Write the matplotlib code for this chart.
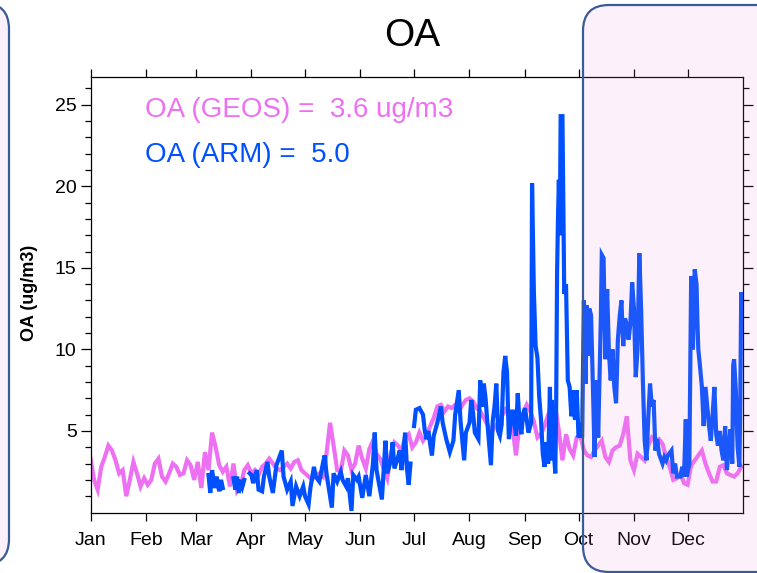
import numpy as np
import matplotlib
matplotlib.use("Agg")
import matplotlib.pyplot as plt
from matplotlib.patches import FancyBboxPatch
from matplotlib.transforms import IdentityTransform

plt.rcParams['font.family'] = ['Liberation Sans', 'DejaVu Sans']

# ---------------- data ----------------
month_labels = ['Jan', 'Feb', 'Mar', 'Apr', 'May', 'Jun', 'Jul', 'Aug', 'Sep', 'Oct', 'Nov', 'Dec']
month_start_day = [0, 31, 59, 90, 120, 151, 181, 212, 243, 273, 304, 334]

# GEOS OA, every 2 days starting Jan 1 (ug/m3)
geos_oa = [
    3.3, 2.0, 1.4, 2.8, 3.4, 4.1, 3.8, 3.2, 2.4, 2.6, 1.0, 2.0, 3.1, 2.4, 1.6, 2.1,
    1.7, 2.0, 3.0, 3.3, 2.2, 1.9, 2.4, 3.0, 2.8, 2.3, 2.4, 3.2, 2.9, 2.0, 3.1, 1.5,
    3.7, 2.6, 4.9, 4.0, 2.9, 2.5, 2.8, 1.6, 3.0, 1.3, 1.6, 2.6, 2.9, 2.4, 2.6, 2.3,
    2.8, 3.0, 3.3, 3.0, 2.7, 2.6, 2.8, 3.0, 2.7, 3.1, 3.2, 2.6, 2.4, 2.2, 2.0, 2.3,
    2.4, 2.2, 3.6, 5.5, 4.1, 2.6, 2.5, 3.8, 3.5, 2.6, 3.0, 4.1, 3.3, 2.7, 3.9, 4.4,
    3.6, 3.3, 2.7, 2.1, 3.6, 4.3, 4.1, 3.8, 4.6, 4.8, 4.0, 4.3, 4.9, 4.4, 4.7, 5.3,
    5.8, 6.5, 6.6, 6.2, 6.5, 6.4, 6.6, 6.2, 6.6, 6.9, 7.0, 6.8, 6.4, 6.2, 5.8, 5.4,
    4.9, 5.2, 5.5, 5.9, 6.3, 6.0, 5.3, 3.5, 5.4, 6.1, 6.6, 6.2, 5.6, 4.6, 4.8, 5.3,
    6.0, 6.3, 6.5, 5.0, 3.2, 4.8, 3.9, 3.5, 4.6, 4.7, 3.8, 3.5, 3.4, 3.8, 4.1, 4.4,
    3.4, 3.1, 3.8, 4.0, 4.1, 4.8, 5.9, 3.2, 2.6, 3.6, 3.4, 3.2, 4.1, 4.6, 4.4, 4.5,
    4.2, 3.4, 2.8, 2.0, 2.1, 2.4, 1.8, 1.7, 2.9, 3.2, 3.5, 3.8, 3.0, 2.4, 1.9, 1.9,
    2.8, 2.9, 2.4, 2.3, 2.2, 2.4, 2.8,
]
geos_day = np.arange(len(geos_oa)) * 2

# ARM OA observations: day of year and value (nan = data gap)
arm_day = [
    66, 67, 68, 69.5, 70.5, 72, 73, 74, 77,
    80, 81, 82, 83, 84, 85, 86, 87.5,
    89, 90, 91, 93, 94, 96, 97, 99, 100, 102, 104, 106, 107, 108, 110, 112, 113, 115,
    117, 119, 120, 122, 123, 125, 126, 128, 130, 131, 132, 135, 136, 138, 140, 141,
    143, 144, 146, 147, 149, 150, 152, 154, 156, 158, 159, 160, 163, 165, 166, 168,
    169, 170, 172, 173, 174, 176, 177, 178, 179, 180,
    181, 182, 184, 186, 187, 188, 189, 190, 191, 192, 194, 196, 197, 199, 201, 203,
    204, 206, 207, 208, 209, 210, 212, 213, 214, 215, 217, 218, 219, 220, 221, 222,
    224, 225, 226, 227, 228, 229, 230, 231, 232, 233, 234, 236, 237, 238, 239, 240,
    241, 242, 243, 244, 245, 246.5, 247, 248, 249, 250, 251, 252, 253, 254, 254.5,
    255, 256, 257, 257.5, 258, 259, 260, 260.5, 261, 261.5, 262, 262.5, 263, 264,
    264.5, 265, 266, 267, 268, 269, 270, 271, 272, 273, 274, 275, 276, 277, 277.5,
    278, 279, 280, 281, 282, 282.5, 283, 284, 285.5, 286, 287, 288, 289, 290, 291,
    292, 293, 294, 295, 296, 297, 298, 299, 300, 301, 302, 303, 304, 305, 306, 307,
    308, 309, 310, 311, 312, 313, 314, 315, 316, 317, 318, 319, 320, 321, 322, 323,
    325, 326, 327, 328, 330, 331, 332, 333, 333.5, 335, 336, 336.5, 337, 338, 339,
    339.5, 340, 341, 342, 343, 344, 345, 346, 347, 348, 349, 350, 351, 352, 353, 354,
    355, 356, 357, 358, 359, 359.5, 360, 361, 361.5, 362, 363, 363.5, 364, 364.8,
]
arm_oa = [
    2.3, 1.2, 2.6, 1.5, 2.2, 1.3, 2.0, 1.5, np.nan,
    2.1, 1.4, 2.2, 1.2, 2.0, 1.6, 2.0, np.nan,
    2.4, 2.3, 1.8, 2.6, 1.4, 1.3, 2.2, 3.1, 2.2, 1.2, 2.9, 3.5, 3.8, 2.2, 1.4, 1.9, 0.4, 1.6,
    1.0, 1.6, 1.0, 0.5, 1.5, 2.8, 2.2, 1.9, 3.0, 3.5, 2.4, 0.3, 2.4, 1.9, 2.5, 2.0,
    1.6, 2.1, 0.1, 2.3, 2.0, 2.2, 0.9, 2.3, 1.0, 3.0, 4.9, 2.6, 0.8, 4.4, 2.4, 3.2,
    4.3, 2.7, 3.4, 3.8, 2.6, 4.9, 2.7, 1.7, 3.0, np.nan,
    5.3, 6.3, 6.4, 6.0, 5.0, 4.5, 5.0, 4.2, 3.5, 4.7, 5.5, 6.5, 5.5, 4.5, 3.7, 4.4,
    6.0, 7.5, 5.6, 4.4, 3.2, 4.9, 5.5, 6.9, 6.1, 4.9, 4.5, 8.1, 6.5, 7.9, 7.0, 5.5,
    2.9, 5.6, 6.5, 7.9, 5.0, 4.7, 5.4, 8.6, 9.6, 8.6, 4.5, 6.3, 5.7, 4.7, 7.3, 5.6,
    4.8, 6.0, 6.4, 5.7, 4.9, 5.5, 20.2, 13.6, 10.2, 9.5, 7.1, 5.7, 3.6, 2.8, 3.6,
    4.3, 3.0, 7.7, 3.2, 6.9, 4.0, 2.4, 6.7, 14.7, 18.0, 20.4, 17.0, 24.3, 24.3,
    18.5, 13.4, 14.0, 8.1, 7.7, 5.9, 7.5, 5.7, 7.5, 4.6, 5.0, 4.6, 13.0, 7.9, 12.7,
    9.6, 12.5, 12.1, 7.9, 3.4, 6.4, 8.1, 4.6, 12.0, 15.8, 15.6, 9.4, 13.7, 9.8, 8.1,
    10.0, 7.7, 6.7, 10.6, 12.0, 13.0, 10.2, 11.9, 11.5, 10.6, 11.6, 14.1, 12.5, 8.3, 10.0, 15.9,
    12.5, 8.0, 4.4, 3.2, 5.8, 7.9, 6.5, 6.9, 3.8, 4.5, 3.6, 3.3, 3.0, 3.4, 3.2, 3.5,
    3.8, 2.4, 3.0, 2.2, 2.2, 2.8, 2.2, 5.7, 2.2, 3.0, 14.5, 12.9, 10.0, 14.9, 14.0,
    11.7, 10.0, 8.9, 7.7, 5.3, 7.7, 6.5, 5.3, 4.4, 6.0, 7.7, 4.8, 4.1, 5.0, 3.8, 3.2,
    5.3, 2.6, 4.0, 5.1, 3.0, 9.0, 9.4, 7.5, 5.5, 4.0, 2.8, 7.0, 13.5, 12.0,
]

title = 'OA'
ylabel = 'OA (ug/m3)'
geos_label = 'OA (GEOS) =  3.6 ug/m3'
arm_label = 'OA (ARM) =  5.0'

# ---------------- figure ----------------
W, H = 757, 573
fig = plt.figure(figsize=(W / 100, H / 100), dpi=100)
fig.patch.set_facecolor('white')

ax = fig.add_axes([90.5 / W, (H - 512.5) / H, (743 - 90.5) / W, (512.5 - 77) / H])
ax.set_facecolor('white')

geos_color = '#EE70F2'
arm_color = '#0050FF'

ax.plot(geos_day, geos_oa, color=geos_color, lw=3.0, solid_joinstyle='miter', zorder=2)
ax.plot(arm_day, arm_oa, color=arm_color, lw=3.0, solid_joinstyle='miter', zorder=3)

ax.set_xlim(0, 365)
ax.set_ylim(0, 26.7)
ax.set_xticks(month_start_day)
ax.set_xticklabels(month_labels)
ax.set_yticks([5, 10, 15, 20, 25])
ax.set_yticks(np.arange(1, 27), minor=True)
ax.tick_params(axis='both', which='both', direction='out', top=True, right=True,
               labeltop=False, labelright=False, labelsize=14, width=0.9, color='black')
ax.tick_params(axis='y', which='major', length=7, pad=3)
ax.tick_params(axis='y', which='minor', length=4)
ax.tick_params(axis='x', which='major', length=6, pad=8)
for s in ax.spines.values():
    s.set_linewidth(0.9)

fig.text(30 / W, 1 - 293 / H, ylabel, rotation=90, ha='center', va='center',
         fontsize=13, fontweight='bold')
fig.text(412 / W, 1 - 36 / H, title, ha='center', va='center', fontsize=28)

ax.text(145 / W, 1 - 110 / H, geos_label, transform=fig.transFigure, color=geos_color,
        fontsize=20, ha='left', va='center')
ax.text(145 / W, 1 - 155 / H, arm_label, transform=fig.transFigure, color=arm_color,
        fontsize=20, ha='left', va='center')

# rounded highlight boxes (pixel coordinates, origin bottom-left)
box_fill = (238 / 255, 138 / 255, 222 / 255, 0.12)
box_edge = '#3A5A98'
r = 26
right_box = FancyBboxPatch((583, H - 572), 260, 567, boxstyle=f'round,pad=0,rounding_size={r}',
                           transform=IdentityTransform(), facecolor=box_fill,
                           edgecolor=box_edge, linewidth=1.6, zorder=20)
left_box = FancyBboxPatch((-100, H - 565), 109, 562, boxstyle=f'round,pad=0,rounding_size={r}',
                          transform=IdentityTransform(), facecolor=box_fill,
                          edgecolor=box_edge, linewidth=1.6, zorder=20)
fig.add_artist(right_box)
fig.add_artist(left_box)

fig.savefig('out.png', dpi=100)
